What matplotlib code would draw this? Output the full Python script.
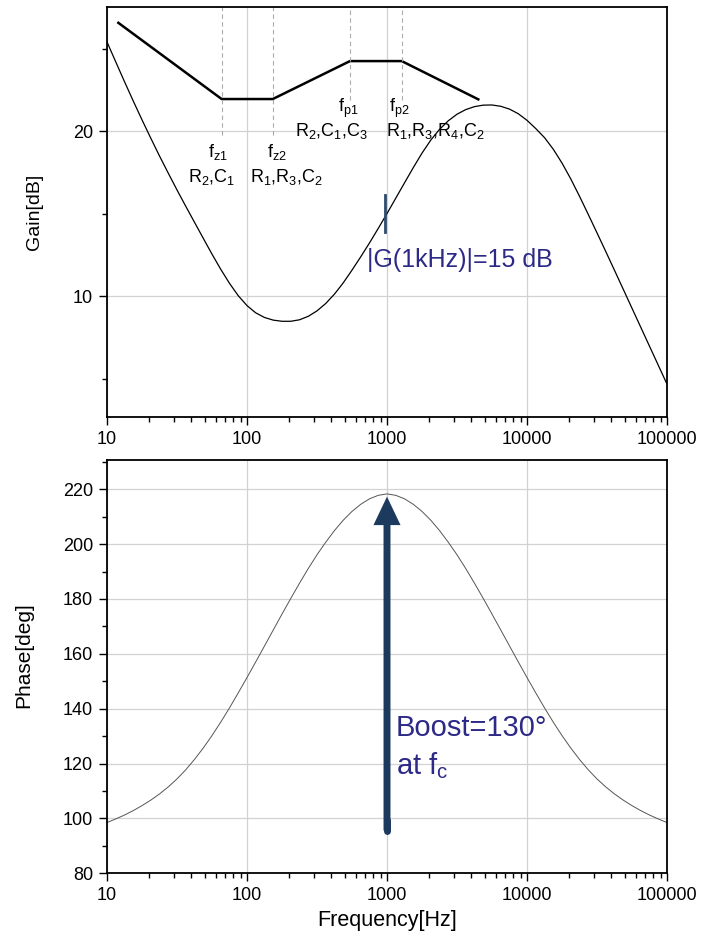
import numpy as np
import matplotlib
matplotlib.use('Agg')
import matplotlib.pyplot as plt
from matplotlib.ticker import FixedLocator, LogLocator, FuncFormatter, NullFormatter

# ---------------- data ----------------
freq_hz = [10, 11.55, 13.34, 15.40, 17.78, 20.54, 23.71, 27.38, 31.62, 36.52, 42.17, 48.70,
           56.23, 64.94, 74.99, 86.60,
           100, 115.5, 133.4, 154.0, 177.8, 205.4, 237.1, 273.8, 316.2, 365.2, 421.7, 487.0,
           562.3, 649.4, 749.9, 866.0,
           1000, 1155, 1334, 1540, 1778, 2054, 2371, 2738, 3162, 3652, 4217, 4870, 5623,
           6494, 7499, 8660,
           10000, 11550, 13340, 15400, 17780, 20540, 23710, 27380, 31620, 36520, 42170,
           48700, 56230, 64940, 74990, 86600, 100000]
gain_db = [25.40, 24.19, 22.99, 21.82, 20.68, 19.57, 18.49, 17.45, 16.43, 15.44, 14.47,
           13.50, 12.54, 11.62, 10.77, 10.02,
           9.42, 8.98, 8.70, 8.54, 8.47, 8.47, 8.56, 8.77, 9.10, 9.55, 10.12, 10.80, 11.57,
           12.38, 13.22, 14.10,
           15.00, 15.93, 16.86, 17.78, 18.66, 19.45, 20.10, 20.62, 21.02, 21.30, 21.48,
           21.57, 21.58, 21.50, 21.33, 21.05,
           20.65, 20.15, 19.60, 18.90, 18.06, 17.10, 16.05, 14.95, 13.83, 12.70, 11.56,
           10.41, 9.26, 8.11, 6.96, 5.81, 4.66]
phase_deg = [98.5, 99.81, 101.24, 102.85, 104.66, 106.67, 108.92, 111.49, 114.4, 117.74,
             121.51, 125.67, 130.21, 135.1, 140.3, 145.77,
             151.35, 157.08, 162.88, 168.69, 174.48, 180.18, 185.73, 191.07, 196.1, 200.7,
             204.95, 208.7, 211.91, 214.51, 216.5, 217.77,
             218.3, 217.77, 216.5, 214.51, 211.91, 208.7, 204.95, 200.7, 196.1, 191.07,
             185.73, 180.18, 174.48, 168.69, 162.88, 157.08,
             151.35, 145.77, 140.3, 135.1, 130.21, 125.67, 121.51, 117.74, 114.4, 111.49,
             108.92, 106.67, 104.66, 102.85, 101.24, 99.81, 98.5]

# asymptotic (straight-line) gain sketch
asym_f = [12.05, 65.9, 152.8, 544, 1274, 4490]
asym_db = [26.56, 21.94, 21.94, 24.24, 24.24, 21.92]

# corner frequencies with their labels
corner_f = [65.9, 152.8, 544, 1274]
corner_dash_bottom = [19.76, 19.76, 21.88, 21.88]
corner_names = [r'$f_{z1}$', r'$f_{z2}$', r'$f_{p1}$', r'$f_{p2}$']
corner_name_pos = [(62.1, 18.73), (163.8, 18.73), (526, 21.39), (1218, 21.39)]
corner_parts = [r'R$_2$,C$_1$', r'R$_1$,R$_3$,C$_2$', r'R$_2$,C$_1$,C$_3$',
                r'R$_1$,R$_3$,R$_4$,C$_2$']
corner_parts_pos = [(56.2, 17.2), (193, 17.2), (404, 20.0), (2203, 20.0)]

x_ticks = [10, 100, 1000, 10000, 100000]
gain_major = [10, 20]
gain_minor = [5, 15, 25]
phase_major = [80, 100, 120, 140, 160, 180, 200, 220]
phase_minor = [90, 110, 130, 150, 170, 190, 210, 230]

gain_lim = (2.65, 27.52)
phase_lim = (80, 230.65)

# annotations
g1k_f = 970
g1k_marker = (13.88, 16.12)
g1k_text = '|G(1kHz)|=15 dB'
g1k_text_pos = (719, 12.18)

fc = 1000
arrow_tail = 95.6
arrow_tip = 217.3
boost_lines = ['Boost=130°', r'at f$_c$']
boost_pos = [(1159, 133.0), (1159, 119.2)]

# ---------------- style ----------------
plt.rcParams['font.family'] = ['Liberation Sans', 'DejaVu Sans']
plt.rcParams['mathtext.fontset'] = 'custom'
plt.rcParams['mathtext.rm'] = 'Liberation Sans'
plt.rcParams['mathtext.it'] = 'Liberation Sans'
plt.rcParams['mathtext.default'] = 'regular'

text_blue = '#2d2a87'
navy = '#1c3a5e'
grid_c = '#d2d2d2'

fig = plt.figure(figsize=(7.06, 9.42), dpi=100)
ax1 = fig.add_axes([0.15156, 0.5570, 0.7932, 0.4356])
ax2 = fig.add_axes([0.15156, 0.07293, 0.7932, 0.43875])


def style(ax):
    ax.set_xscale('log')
    ax.set_xlim(10, 100000)
    ax.xaxis.set_major_locator(FixedLocator(x_ticks))
    ax.xaxis.set_major_formatter(FuncFormatter(lambda v, p: f'{int(round(v))}'))
    ax.xaxis.set_minor_locator(LogLocator(base=10, subs=np.arange(2, 10)))
    ax.xaxis.set_minor_formatter(NullFormatter())
    ax.tick_params(which='major', direction='out', length=6, width=1.0,
                   labelsize=13, top=False, right=False, pad=4)
    ax.tick_params(which='minor', direction='out', length=3.5, width=1.0,
                   top=False, right=False)
    for s in ax.spines.values():
        s.set_linewidth(1.3)
    ax.grid(True, which='major', color=grid_c, lw=0.9)
    ax.set_axisbelow(True)


style(ax1)
style(ax2)

# ---- top: gain ----
ax1.set_ylim(*gain_lim)
ax1.yaxis.set_major_locator(FixedLocator(gain_major))
ax1.yaxis.set_minor_locator(FixedLocator(gain_minor))
ax1.plot(freq_hz, gain_db, color='black', lw=0.9)
ax1.plot(asym_f, asym_db, color='black', lw=1.8)
for f, yb in zip(corner_f, corner_dash_bottom):
    ax1.plot([f, f], [yb, gain_lim[1]], color='#aaaaaa', lw=0.8, ls=(0, (4, 3)))
for name, (x, y) in zip(corner_names, corner_name_pos):
    ax1.text(x, y, name, ha='center', va='center', fontsize=13)
for part, (x, y) in zip(corner_parts, corner_parts_pos):
    ax1.text(x, y, part, ha='center', va='center', fontsize=13)
ax1.plot([g1k_f, g1k_f], list(g1k_marker), color='#2f4a6e', lw=2.0)
ax1.text(*g1k_text_pos, g1k_text, ha='left', va='center', fontsize=18, color=text_blue)
ax1.set_ylabel('Gain[dB]', fontsize=14)
ax1.yaxis.set_label_coords(-0.114, 0.5)

# ---- bottom: phase ----
ax2.set_ylim(*phase_lim)
ax2.yaxis.set_major_locator(FixedLocator(phase_major))
ax2.yaxis.set_minor_locator(FixedLocator(phase_minor))
ax2.plot(freq_hz, phase_deg, color='#555555', lw=0.7)
ax2.annotate('', xy=(fc, arrow_tip), xytext=(fc, arrow_tail),
             arrowprops=dict(width=5, headwidth=19.5, headlength=20.5,
                             facecolor=navy, edgecolor=navy, linewidth=0, shrink=0))
ax2.plot([fc, fc], [arrow_tail, arrow_tail + 4], color=navy, lw=5,
         solid_capstyle='round')
for line, (x, y) in zip(boost_lines, boost_pos):
    ax2.text(x, y, line, ha='left', va='center', fontsize=21, color=text_blue)
ax2.set_ylabel('Phase[deg]', fontsize=15)
ax2.yaxis.set_label_coords(-0.132, 0.528)
ax2.set_xlabel('Frequency[Hz]', fontsize=15.5)
ax2.xaxis.set_label_coords(0.5, -0.088)

fig.savefig('out.png', dpi=100)
